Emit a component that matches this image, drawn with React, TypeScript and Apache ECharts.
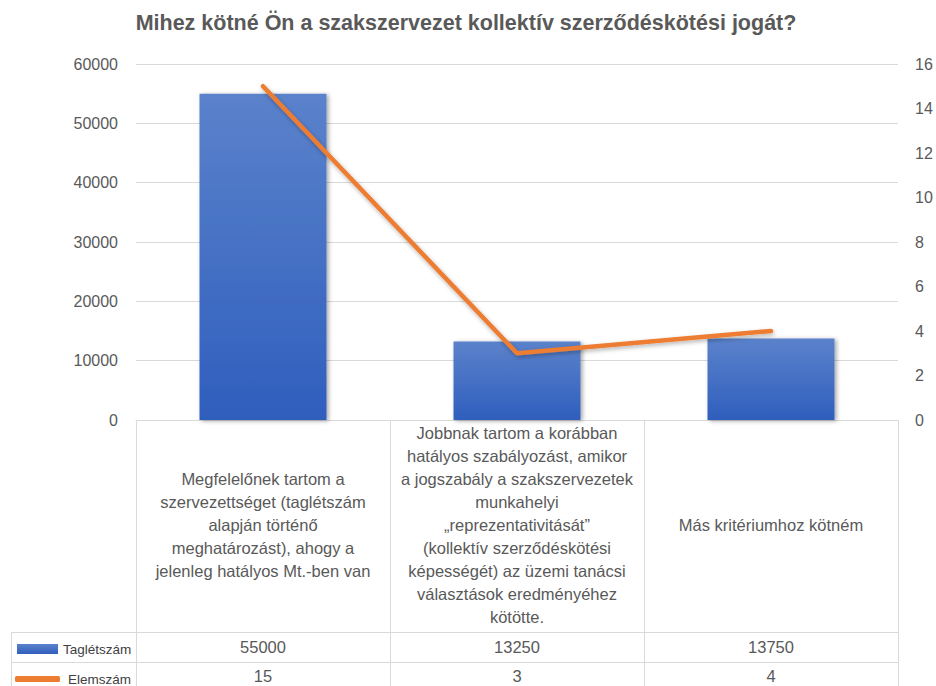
import React, { useEffect, useRef } from "react";
import * as echarts from "echarts";

const titleText = "Mihez kötné Ön a szakszervezet kollektív szerződéskötési jogát?";
const categories = [
  "Megfelelőnek tartom a\nszervezettséget (taglétszám\nalapján történő\nmeghatározást), ahogy a\njelenleg hatályos Mt.-ben van",
  "Jobbnak tartom a korábban\nhatályos szabályozást, amikor\na jogszabály a szakszervezetek\nmunkahelyi\n„reprezentativitását”\n(kollektív szerződéskötési\nképességét) az üzemi tanácsi\nválasztások eredményéhez\nkötötte.",
  "Más kritériumhoz kötném",
];
const memberName = "Taglétszám";
const countName = "Elemszám";
const memberCounts = [55000, 13250, 13750];
const respondentCounts = [15, 3, 4];
const leftTicks = { min: 0, max: 60000, interval: 10000 };
const rightTicks = { min: 0, max: 16, interval: 2 };

const FONT = "'Liberation Sans', Arial, sans-serif";
const GRAY = "#595959";
const BORDER = "#d9d9d9";

export default function App() {
  const ref = useRef<HTMLDivElement>(null);
  useEffect(() => {
    if (!ref.current) return;
    const chart = echarts.init(ref.current, null, { renderer: "svg" });
    const borderLine = (x1: number, y1: number, x2: number, y2: number) => ({
      type: "line",
      shape: { x1, y1, x2, y2 },
      style: { stroke: BORDER, lineWidth: 1 },
      silent: true,
    });
    chart.setOption({
      animation: false,
      backgroundColor: "#ffffff",
      textStyle: { fontFamily: FONT },
      title: {
        text: titleText,
        left: 461,
        textAlign: "center",
        top: 7,
        textStyle: { fontFamily: FONT, fontSize: 21.5, fontWeight: "bold", color: GRAY },
      },
      legend: [
        {
          data: [memberName],
          orient: "vertical",
          left: 17,
          top: 642,
          itemWidth: 41,
          itemHeight: 10,
          icon: "rect",
          itemGap: 0,
          padding: 0,
          selectedMode: false,
          textStyle: { fontFamily: FONT, fontSize: 13.5, color: "#404040" },
        },
        {
          data: [countName],
          orient: "vertical",
          left: 15,
          top: 672,
          itemWidth: 45,
          itemHeight: 6,
          icon: "roundRect",
          itemGap: 0,
          padding: 0,
          selectedMode: false,
          textStyle: { fontFamily: FONT, fontSize: 13.5, color: "#404040", padding: [0, 0, 0, 3] },
        },
      ],
      grid: { left: 136, right: 38, top: 64, bottom: 266, containLabel: false },
      xAxis: [
        {
          type: "category",
          data: categories,
          position: "bottom",
          axisLine: { show: true, lineStyle: { color: BORDER } },
          axisTick: { show: true, interval: 0, length: 266, lineStyle: { color: BORDER } },
          axisLabel: {
            interval: 0,
            margin: 105,
            verticalAlign: "middle",
            align: "center",
            fontFamily: FONT,
            fontSize: 16.5,
            lineHeight: 23,
            color: GRAY,
          },
        },
        {
          type: "category",
          data: memberCounts.map((v) => String(v)),
          position: "bottom",
          axisLine: { show: false },
          axisTick: { show: false },
          axisLabel: {
            interval: 0,
            margin: 227,
            verticalAlign: "middle",
            fontFamily: FONT,
            fontSize: 16.5,
            color: GRAY,
          },
        },
        {
          type: "category",
          data: respondentCounts.map((v) => String(v)),
          position: "bottom",
          axisLine: { show: false },
          axisTick: { show: false },
          axisLabel: {
            interval: 0,
            margin: 256,
            verticalAlign: "middle",
            fontFamily: FONT,
            fontSize: 16.5,
            color: GRAY,
          },
        },
      ],
      yAxis: [
        {
          type: "value",
          ...leftTicks,
          axisLine: { show: false },
          axisTick: { show: false },
          splitLine: { show: true, lineStyle: { color: BORDER } },
          axisLabel: {
            margin: 18,
            fontFamily: FONT,
            fontSize: 16,
            color: GRAY,
            formatter: (v: number) => String(v),
          },
        },
        {
          type: "value",
          ...rightTicks,
          position: "right",
          axisLine: { show: false },
          axisTick: { show: false },
          splitLine: { show: false },
          axisLabel: {
            margin: 17,
            fontFamily: FONT,
            fontSize: 16,
            color: GRAY,
            formatter: (v: number) => String(v),
          },
        },
      ],
      series: [
        {
          name: memberName,
          type: "bar",
          data: memberCounts,
          barWidth: "50%",
          xAxisIndex: 0,
          yAxisIndex: 0,
          itemStyle: {
            color: new echarts.graphic.LinearGradient(0, 0, 0, 1, [
              { offset: 0, color: "#5b82cb" },
              { offset: 1, color: "#2f5ebd" },
            ]),
            shadowColor: "rgba(0,0,0,0.35)",
            shadowBlur: 4,
            shadowOffsetX: 2,
            shadowOffsetY: 1,
          },
        },
        {
          name: countName,
          type: "line",
          data: respondentCounts,
          xAxisIndex: 0,
          yAxisIndex: 1,
          symbol: "none",
          z: 5,
          itemStyle: { color: "#ed7d31" },
          lineStyle: {
            color: "#ed7d31",
            width: 4.5,
            cap: "round",
            join: "round",
            shadowColor: "rgba(0,0,0,0.3)",
            shadowBlur: 4,
            shadowOffsetX: 1,
            shadowOffsetY: 2,
          },
        },
      ],
      graphic: [
        borderLine(11, 632.5, 898, 632.5),
        borderLine(11, 662.5, 898, 662.5),
        borderLine(11.5, 632, 11.5, 686),
      ],
    });
    return () => chart.dispose();
  }, []);
  return (
    <div
      ref={ref}
      style={{ position: "fixed", left: 0, top: 0, width: 936, height: 686, background: "#fff" }}
    />
  );
}
